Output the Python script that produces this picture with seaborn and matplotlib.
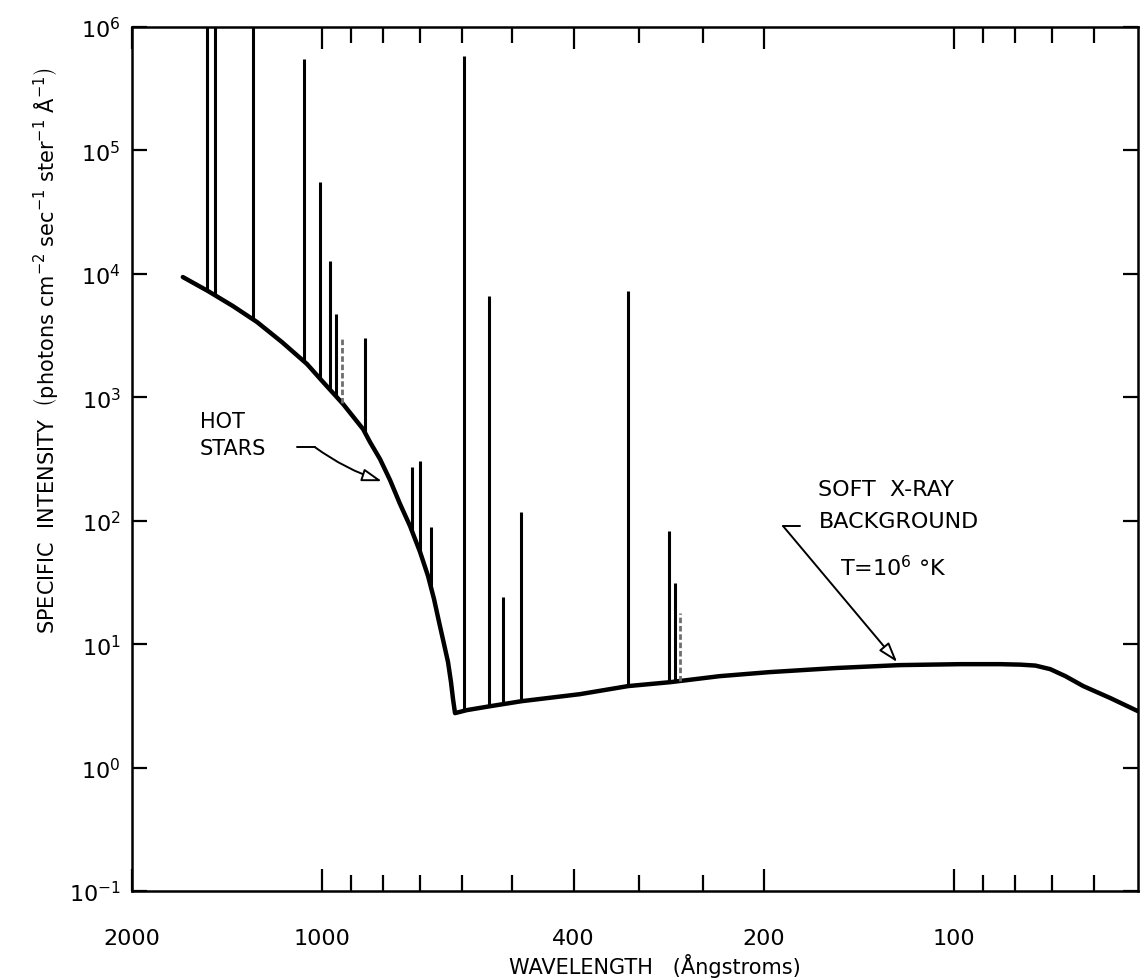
import numpy as np
import pandas as pd
import matplotlib
matplotlib.use("Agg")
import matplotlib.pyplot as plt
import seaborn as sns
from matplotlib.ticker import FixedLocator, NullFormatter, NullLocator

# ---- data ----
cont_wavelength = [1660, 1515, 1383, 1267, 1157, 1056, 996, 926, 861, 839.6, 809.5, 780.5, 752.5,
                   725.6, 699.6, 679.6, 665.0, 652.9, 641.2, 631.9, 625.1, 620.5, 616,
                   590, 540, 483, 391, 328, 281, 235, 196, 154, 122, 97.8, 84.6, 78.6, 74.4,
                   70.5, 66.7, 62.5, 56.6, 51.2]
cont_intensity = [9420, 7260, 5480, 4070, 2800, 1858, 1328, 881, 552, 433.5, 315.6, 213.3, 136.3,
                  90.4, 55.7, 35.6, 23.2, 15.1, 10.0, 7.15, 4.92, 3.58, 2.76,
                  2.92, 3.15, 3.45, 3.93, 4.57, 4.92, 5.5, 5.93, 6.4, 6.76, 6.88, 6.88, 6.82, 6.70,
                  6.27, 5.50, 4.57, 3.65, 2.86]

line_wavelength = [1521, 1477, 1286, 1068, 1007, 971, 950, 930, 855, 720, 700, 672,
                   596, 544, 517, 484, 328, 283, 276, 271]
line_peak = [1e6, 1e6, 1e6, 5.5e5, 5.6e4, 1.27e4, 4.7e3, 3.0e3, 3.0e3, 272, 304, 89,
             5.8e5, 6.6e3, 24, 117, 7.2e3, 82, 31, 18]
line_faint = [930, 271]

x_major = [2000, 1000, 400, 200, 100]
x_major_labels = ["2000", "1000", "400", "200", "100"]
x_minor = [900, 800, 700, 600, 500, 315, 250, 90, 80, 70, 60]
y_exponents = [-1, 0, 1, 2, 3, 4, 5, 6]

# ---- style ----
sns.set_theme(style="ticks")
plt.rcParams["font.family"] = ["DejaVu Sans"]
plt.rcParams["mathtext.fontset"] = "dejavusans"
plt.rcParams["mathtext.default"] = "regular"

fig = plt.figure(figsize=(11.41, 9.79), dpi=100)
ax = fig.add_axes([0.1154, 0.0889, 0.8820, 0.8825])
ax.set_xscale("log")
ax.set_yscale("log")

df = pd.DataFrame({"wavelength": cont_wavelength, "intensity": cont_intensity})
sns.lineplot(data=df, x="wavelength", y="intensity", color="black", linewidth=3.2,
             estimator=None, sort=False, ax=ax)

# emission lines rising from the continuum
lw_log = np.log10(cont_wavelength)[::-1]
li_log = np.log10(cont_intensity)[::-1]
for lam, peak in zip(line_wavelength, line_peak):
    base = 10 ** np.interp(np.log10(lam), lw_log, li_log)
    if lam in line_faint:
        ax.vlines(lam, base, peak, color="#6e6e6e", linewidth=2.0, linestyles=(0, (2, 1)))
    else:
        ax.vlines(lam, base, peak, color="black", linewidth=2.2)

ax.set_xlim(2000, 51.2)
ax.set_ylim(1e-1, 1e6)

# ticks
ax.xaxis.set_major_locator(FixedLocator(x_major))
ax.set_xticklabels(x_major_labels)
ax.xaxis.set_minor_locator(FixedLocator(x_minor))
ax.xaxis.set_minor_formatter(NullFormatter())
ax.yaxis.set_major_locator(FixedLocator([10.0 ** k for k in y_exponents]))
ax.set_yticklabels([r"10$^{%d}$" % k for k in y_exponents])
ax.yaxis.set_minor_locator(NullLocator())

ax.tick_params(axis="both", which="both", direction="in", top=True, right=True,
               width=1.6, colors="black", labelsize=16)
ax.tick_params(axis="x", which="major", length=16, pad=27)
ax.tick_params(axis="x", which="minor", length=11.5)
ax.tick_params(axis="y", which="major", length=11, pad=8)
for s in ax.spines.values():
    s.set_linewidth(1.8)
    s.set_color("black")

ax.set_xlabel("WAVELENGTH   (Ångstroms)", fontsize=15, color="black", va="center")
ax.xaxis.set_label_coords(0.52, -0.0856)
ax.set_ylabel(r"SPECIFIC  INTENSITY  $\left(\mathrm{photons\ cm^{-2}\ sec^{-1}\ ster^{-1}\ Å^{-1}}\right)$",
              fontsize=15, color="black", va="center")
ax.yaxis.set_label_coords(-0.086, 0.626)

# annotations
ax.text(1560, 647, "HOT", ha="left", va="center", fontsize=15, color="black")
ax.text(1560, 387, "STARS", ha="left", va="center", fontsize=15, color="black")
ax.plot([1095, 1026], [394, 394], color="black", linewidth=1.4)
ax.annotate("", xy=(804, 209), xytext=(1026, 394),
            arrowprops=dict(arrowstyle="-|>,head_length=1.0,head_width=0.32", fc="white", ec="black",
                            lw=1.4, shrinkA=0, shrinkB=0, connectionstyle="arc3,rad=0.08"))

ax.text(164, 180, "SOFT  X-RAY", ha="left", va="center", fontsize=16, color="black")
ax.text(164, 99.3, "BACKGROUND", ha="left", va="center", fontsize=16, color="black")
ax.text(151.5, 42.1, r"T=10$^{6}$ °K", ha="left", va="center", fontsize=16, color="black")
ax.plot([175.3, 186.5], [90.4, 90.4], color="black", linewidth=1.4)
ax.annotate("", xy=(123.1, 7.15), xytext=(186.5, 90.4),
            arrowprops=dict(arrowstyle="-|>,head_length=1.0,head_width=0.32", fc="white", ec="black",
                            lw=1.4, shrinkA=0, shrinkB=0))

fig.savefig("out.png", dpi=100)
